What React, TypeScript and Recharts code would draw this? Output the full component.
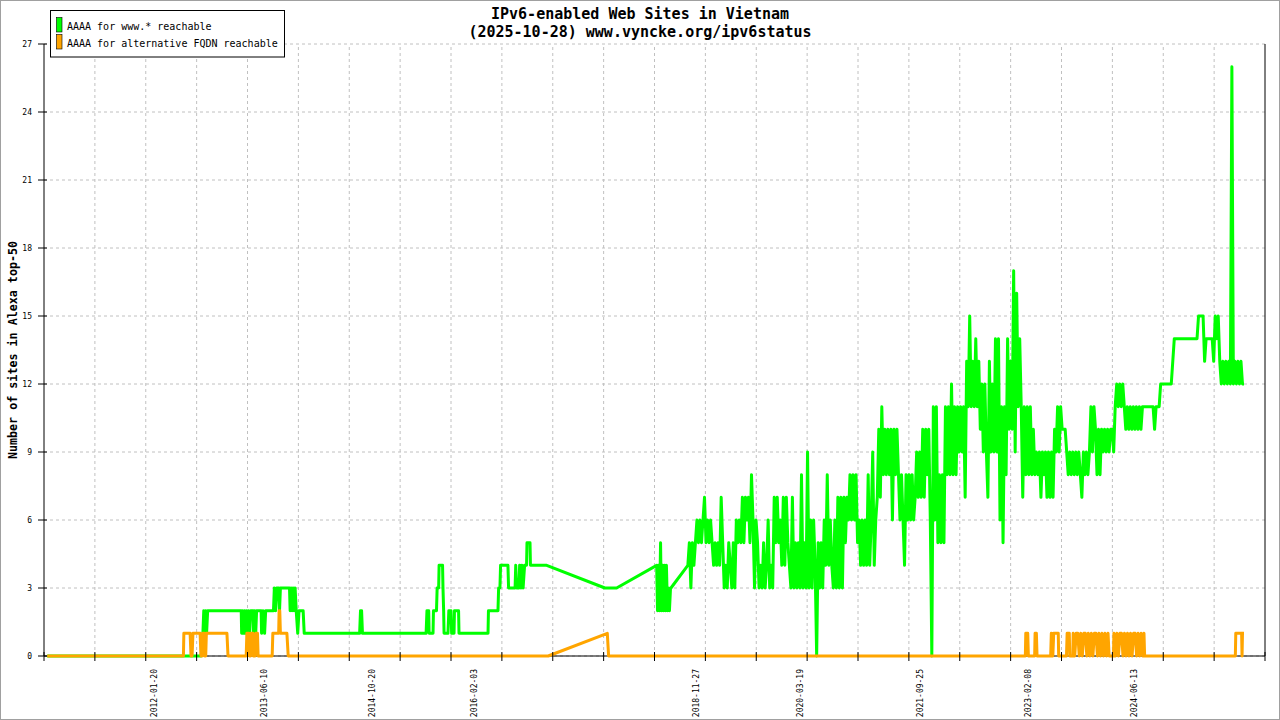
import { LineChart, Line, XAxis, YAxis, CartesianGrid, ReferenceLine } from "recharts";

// x values are days counted from EPOCH
const EPOCH = "2012-01-20";
const X_MIN = -509;
const X_MAX = 5131;

const GRID_TICKS = [
  -509, -274, -39, 196, 431, 666, 901, 1136, 1371, 1606, 1841, 2076, 2311,
  2546, 2781, 3016, 3251, 3486, 3721, 3956, 4191, 4426, 4661, 4896, 5131,
];
const LABEL_DATES = [
  "2012-01-20", "2013-06-10", "2014-10-20", "2016-02-03", "2018-11-27",
  "2020-03-19", "2021-09-25", "2023-02-08", "2024-06-13",
];
const Y_TICKS = [0, 3, 6, 9, 12, 15, 18, 21, 24, 27];

const TITLE = "IPv6-enabled Web Sites in Vietnam";
const SUBTITLE = "(2025-10-28) www.vyncke.org/ipv6status";
const Y_LABEL = "Number of sites in Alexa top-50";
const WWW_NAME = "AAAA for www.* reachable";
const ALT_NAME = "AAAA for alternative FQDN reachable";
const WWW_COLOR = "#00ff00";
const ALT_COLOR = "#ffa500";
const FONT = "'DejaVu Sans Mono', monospace";

// www.* : sparse points until autumn 2018 ...
const WWW_EARLY: [number, number][] = [
  [-494, 0], [217, 0], [225, 1], [229, 2], [233, 1], [238, 2], [242, 1], [247, 2],
  [402, 2], [404, 1], [409, 2], [413, 1], [418, 2], [422, 1], [427, 2], [432, 1],
  [436, 2], [441, 1], [446, 2], [457, 2], [459, 1], [464, 2], [469, 1], [473, 2],
  [494, 2], [496, 1], [503, 2], [510, 1], [515, 2], [551, 2], [555, 3], [561, 2],
  [566, 3], [575, 3], [579, 2], [583, 3], [625, 3], [628, 2], [633, 3], [637, 2],
  [642, 3], [646, 2], [651, 3], [656, 2], [663, 1], [669, 2], [688, 2], [693, 1],
  [949, 1], [953, 2], [958, 2], [962, 1], [1256, 1], [1260, 2], [1268, 2], [1270, 1],
  [1288, 1], [1290, 2], [1304, 2], [1307, 3], [1314, 3], [1316, 4], [1332, 4], [1334, 3],
  [1337, 2], [1339, 1], [1357, 1], [1361, 2], [1371, 2], [1374, 1], [1385, 1], [1387, 2],
  [1406, 2], [1408, 1], [1542, 1], [1544, 2], [1588, 2], [1591, 3], [1597, 3], [1600, 4],
  [1634, 4], [1637, 3], [1667, 3], [1670, 4], [1674, 3], [1685, 3], [1688, 4], [1694, 3],
  [1699, 4], [1704, 3], [1711, 4], [1720, 4], [1722, 5], [1736, 5], [1738, 4], [1813, 4],
  [2082, 3], [2136, 3], [2321, 4], [2325, 2], [2329, 4], [2334, 2], [2339, 5], [2343, 2],
  [2348, 4], [2352, 2], [2357, 4], [2362, 2], [2366, 4], [2371, 2], [2375, 3], [2380, 2],
  [2385, 3], [2387, 3],
];

// ... then weekly samples starting 2018-10-20
const WWW_WEEKLY_START = 2465;
const WWW_WEEKLY: number[] = [
  4, 5, 3, 5, 4, 5,
  6, 5, 6, 5, 6, 7, 5, 6, 5, 6, 5,
  4, 5, 4, 5, 4, 7, 5,
  3, 4, 3,
  5, 4, 3, 5, 3,
  6, 5, 6, 5, 7, 5, 7, 6, 7, 5, 8, 6, 3, 6, 5, 3, 4,
  3, 5, 3, 4, 6, 3, 4, 3, 7, 5, 7, 5,
  6, 4, 7, 4, 7, 5, 4,
  3, 7, 3, 5, 3, 5, 3, 8, 3, 5, 3, 9,
  3, 6, 3, 6, 4,
  0,
  5, 3, 5, 3,
  6, 4, 8, 4, 6, 4, 3, 6, 3,
  7, 3, 7, 3, 7,
  5, 7, 6, 8, 6, 8, 6, 8,
  5, 6, 4, 6, 4, 6, 4, 8, 4, 6, 9, 4, 6,
  7, 10, 7, 11, 8, 10, 8, 10, 8, 10, 6, 10, 8, 10,
  8, 6, 8, 6, 4, 8, 6, 8, 6, 8, 6, 7, 9, 7,
  9, 7, 10, 7, 10, 8, 10,
  6, 0, 11, 6, 11,
  5, 8, 5, 8, 5,
  11, 8, 11, 8, 12, 8,
  11, 8, 11, 9, 11, 9, 11, 7,
  13, 11, 15, 11, 13, 11, 14, 11, 13,
  10, 12, 9, 12,
  9, 7, 13, 9,
  12, 9, 14, 9, 14,
  6, 11, 5, 11, 8,
  14, 10, 13, 10,
  17, 9, 16, 11, 14, 11,
  7, 11, 8, 11, 8, 11, 8, 10, 8,
  9, 8, 9, 7, 9, 8, 9,
  7, 9, 7, 9, 7,
  10, 9, 11, 9,
  11, 10, 10, 10, 9,
  8, 9, 8, 9, 8, 9, 8, 9, 8, 7, 9, 8, 9, 8,
  9, 11, 9, 11, 10,
  8, 10, 8, 10, 9, 10, 9, 10, 9, 10, 10, 9,
  11, 12, 11, 12, 11, 12, 11,
  10, 11, 10, 11, 10, 11, 10, 11, 10, 11, 10,
  11, 11, 11, 11, 11, 11, 11, 11, 10, 11, 11, 11,
  12, 12, 12, 12, 12, 12, 12, 12,
  13, 14, 14, 14, 14, 14, 14, 14, 14, 14, 14, 14, 14, 14, 14, 14, 14,
  15, 15, 15, 15,
  13, 14, 14, 14, 14, 14, 13, 15, 14, 15,
  13, 12, 13, 12, 13, 12, 13, 12,
  26,
  12, 13, 12, 13, 12, 13, 12, 12,
];

const ALT_POINTS: [number, number][] = [
  [-494, 0], [135, 0], [137, 1], [166, 1], [170, 0], [175, 0], [179, 1], [212, 1],
  [216, 0], [222, 0], [225, 1], [231, 1], [233, 0], [238, 0], [241, 1], [336, 1],
  [341, 0], [425, 0], [428, 1], [437, 1], [440, 0], [445, 0], [447, 1], [456, 1],
  [458, 0], [466, 0], [469, 1], [477, 1], [480, 0], [545, 0], [548, 1], [575, 1],
  [577, 2], [580, 2], [583, 1], [613, 1], [619, 0], [1820, 0], [2093, 1], [2099, 0],
  [4024, 0], [4026, 1], [4035, 1], [4038, 0], [4067, 0], [4069, 1], [4075, 1], [4078, 0],
  [4141, 0], [4144, 1], [4151, 0], [4155, 1], [4176, 1], [4178, 0], [4214, 0], [4217, 1],
  [4227, 1], [4229, 0], [4243, 0],
  [4245, 1], [4252, 0], [4259, 1], [4266, 1], [4273, 0], [4280, 1], [4287, 0], [4294, 1],
  [4301, 1], [4308, 0], [4315, 1], [4322, 0], [4329, 1], [4336, 0], [4343, 1], [4350, 1],
  [4357, 0], [4364, 1], [4371, 0], [4378, 1], [4385, 0], [4392, 1], [4399, 0], [4406, 1],
  [4411, 0], [4431, 0],
  [4433, 1], [4440, 0], [4447, 1], [4454, 0], [4461, 1], [4468, 1], [4475, 0], [4482, 1],
  [4489, 0], [4496, 1], [4503, 0], [4510, 1], [4517, 0], [4524, 1], [4531, 1], [4538, 0],
  [4545, 1], [4552, 0], [4559, 1], [4566, 0], [4572, 1],
  [4575, 0], [4994, 0], [4996, 1], [5023, 1], [5025, 0], [5027, 1], [5034, 1],
];

const dayOf = (iso: string) => (Date.parse(iso) - Date.parse(EPOCH)) / 86400000;
const LABEL_DAYS = LABEL_DATES.map(dayOf);
const LABEL_BY_DAY = new Map(LABEL_DAYS.map((d, i) => [d, LABEL_DATES[i]]));
const GRID_SET = new Set(GRID_TICKS);
const X_TICKS = [...GRID_TICKS, ...LABEL_DAYS].sort((a, b) => a - b);

const wwwData = [
  ...WWW_EARLY.map(([day, v]) => ({ day, v })),
  ...WWW_WEEKLY.map((v, i) => ({ day: WWW_WEEKLY_START + 7 * i, v })),
];
const altData = ALT_POINTS.map(([day, v]) => ({ day, v }));

function XTick(props: any) {
  const { x, y, payload } = props;
  const v = payload.value;
  const label = LABEL_BY_DAY.get(v);
  return (
    <g>
      {GRID_SET.has(v) && <line x1={x} x2={x} y1={y - 4} y2={y + 5} stroke="#000" />}
      {label && (
        <text
          transform={`translate(${x + 3},${y + 13}) rotate(-90)`}
          textAnchor="end"
          fontFamily={FONT}
          fontSize={8}
          fill="#000"
        >
          {label}
        </text>
      )}
    </g>
  );
}

function YTick(props: any) {
  const { x, y, payload } = props;
  return (
    <g>
      <line x1={x - 6} x2={x + 3} y1={y} y2={y} stroke="#000" />
      <text x={x - 12} y={y + 3} textAnchor="end" fontFamily={FONT} fontSize={8} fill="#000">
        {payload.value}
      </text>
    </g>
  );
}

function YLabel(props: any) {
  const vb = props.viewBox || {};
  const cx = (vb.x ?? 0) + 17;
  const cy = (vb.y ?? 44) + (vb.height ?? 612) / 2;
  return (
    <text
      x={cx}
      y={cy}
      transform={`rotate(-90, ${cx}, ${cy})`}
      textAnchor="middle"
      fontFamily={FONT}
      fontSize={11.7}
      fontWeight="bold"
      fill="#000"
    >
      {Y_LABEL}
    </text>
  );
}

export default function App() {
  return (
    <div style={{ position: "absolute", left: 0, top: 0, width: 1280, height: 720, background: "#fff" }}>
      <LineChart width={1280} height={720} margin={{ top: 44, right: 15, bottom: 0, left: 0 }}>
        <CartesianGrid vertical={false} stroke="#c0c0c0" strokeDasharray="3 3" />
        {GRID_TICKS.slice(1, -1).map((t) => (
          <ReferenceLine key={t} x={t} stroke="#c0c0c0" strokeDasharray="3 3" zIndex={-100} />
        ))}
        <ReferenceLine x={X_MAX} stroke="#000" />
        <XAxis
          dataKey="day"
          type="number"
          domain={[X_MIN, X_MAX]}
          allowDataOverflow
          ticks={X_TICKS}
          interval={0}
          tickLine={false}
          tickSize={0}
          tickMargin={0}
          tick={XTick}
          axisLine={{ stroke: "#000" }}
          height={64}
        />
        <YAxis
          type="number"
          domain={[0, 27]}
          ticks={Y_TICKS}
          interval={0}
          tickLine={false}
          tickSize={0}
          tickMargin={0}
          tick={YTick}
          axisLine={{ stroke: "#000" }}
          width={44}
          label={{ content: YLabel }}
        />
        <Line
          data={wwwData}
          dataKey="v"
          name={WWW_NAME}
          type="linear"
          stroke={WWW_COLOR}
          strokeWidth={3}
          strokeLinejoin="round"
          dot={false}
          activeDot={false}
          isAnimationActive={false}
          zIndex={600}
        />
        <Line
          data={altData}
          dataKey="v"
          name={ALT_NAME}
          type="linear"
          stroke={ALT_COLOR}
          strokeWidth={3}
          strokeLinejoin="round"
          dot={false}
          activeDot={false}
          isAnimationActive={false}
          zIndex={610}
        />
      </LineChart>

      {/* title, legend box and outer frame */}
      <svg
        width={1280}
        height={720}
        style={{ position: "absolute", left: 0, top: 0, pointerEvents: "none" }}
      >
        <text x={640} y={19} textAnchor="middle" fontFamily={FONT} fontSize={15} fontWeight="bold">
          {TITLE}
        </text>
        <text x={640} y={37} textAnchor="middle" fontFamily={FONT} fontSize={15} fontWeight="bold">
          {SUBTITLE}
        </text>
        <rect x={50.5} y={10.5} width={234} height={46.5} fill="#fff" stroke="#000" />
        <rect x={56.5} y={17.5} width={5.5} height={14.5} fill={WWW_COLOR} stroke="#000" strokeWidth={0.6} />
        <rect x={56.5} y={34.5} width={5.5} height={14.5} fill={ALT_COLOR} stroke="#000" strokeWidth={0.6} />
        <text x={67} y={29.5} fontFamily={FONT} fontSize={10}>{WWW_NAME}</text>
        <text x={67} y={46.5} fontFamily={FONT} fontSize={10}>{ALT_NAME}</text>
        <rect x={0.5} y={0.5} width={1279} height={719} fill="none" stroke="#a0a0a0" />
      </svg>
    </div>
  );
}
